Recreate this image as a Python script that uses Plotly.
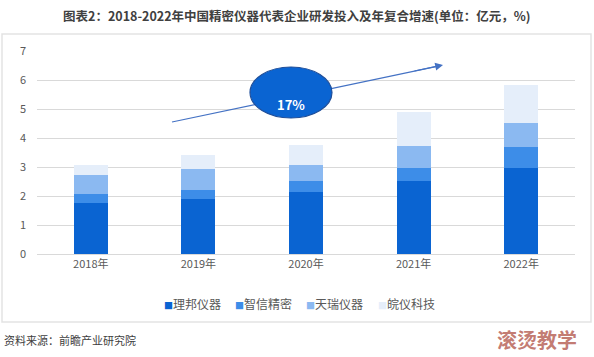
import plotly.graph_objects as go

years = ["2018年", "2019年", "2020年", "2021年", "2022年"]
series_names = ["理邦仪器", "智信精密", "天瑞仪器", "皖仪科技"]
libang = [1.77, 1.91, 2.14, 2.51, 2.98]
zhixin = [0.29, 0.31, 0.37, 0.47, 0.71]
tianrui = [0.68, 0.70, 0.57, 0.75, 0.82]
wanyi = [0.33, 0.48, 0.67, 1.18, 1.32]
colors = ["#0A64D2", "#3D8DE8", "#8BB9F1", "#E5EEFA"]
y_ticks = [0, 1, 2, 3, 4, 5, 6, 7]
cagr_label = "17%"

FONT = "Noto Sans CJK SC"
fig = go.Figure()
for name, vals, c in zip(series_names, [libang, zhixin, tianrui, wanyi], colors):
    fig.add_trace(go.Bar(x=years, y=vals, name=name, marker=dict(color=c, line=dict(width=0)),
                         hoverinfo="skip"))

fig.update_layout(
    width=594, height=357,
    barmode="stack", bargap=0.684,
    paper_bgcolor="white", plot_bgcolor="white",
    margin=dict(l=37, r=19, t=51, b=103),
    font=dict(family=FONT, color="#595959", size=11),
    showlegend=False,
    xaxis=dict(showgrid=False, showline=True, linecolor="#D9D9D9", ticks="",
               tickfont=dict(size=11, color="#595959")),
    yaxis=dict(range=[0, 7], tickvals=y_ticks, showgrid=True, gridcolor="#D9D9D9",
               zeroline=False, showline=False, ticks="", ticklabelstandoff=10,
               tickfont=dict(size=11, color="#595959")),
)

def px_x(p):
    return (p-37)/538
def px_y(p):
    return (254-p)/203

# custom legend (small squares close to text, as in the reference)
legend_x = [162, 233, 304, 376]
for name, c, lx in zip(series_names, colors, legend_x):
    fig.add_annotation(xref="paper", yref="paper", x=px_x(lx), y=px_y(303),
                       text="<span style='color:%s;font-size:9px'>■</span>%s" % (c, name),
                       showarrow=False, xanchor="left", yanchor="middle",
                       font=dict(size=12, color="#595959", family=FONT))

# title
fig.add_annotation(xref="paper", yref="paper", x=px_x(297), y=px_y(15),
                   text="<b>图表2：2018-2022年中国精密仪器代表企业研发投入及年复合增速(单位：亿元，%)</b>",
                   showarrow=False, font=dict(size=12.5, color="#404040", family=FONT),
                   xanchor="center", yanchor="middle")
# source
fig.add_annotation(xref="paper", yref="paper", x=px_x(2), y=px_y(340),
                   text="资料来源：前瞻产业研究院", showarrow=False,
                   font=dict(size=11, color="#404040", family=FONT), xanchor="left", yanchor="middle")
# watermark text
fig.add_annotation(xref="paper", yref="paper", x=px_x(579), y=px_y(339),
                   text="<b>滚烫教学</b>", showarrow=False,
                   font=dict(size=20, color="rgba(185,100,90,0.85)", family=FONT), xanchor="right", yanchor="middle")

# frame box
fig.add_shape(type="rect", xref="paper", yref="paper", x0=px_x(2), x1=px_x(591), y0=px_y(322), y1=px_y(34),
              line=dict(color="#E3E3E3", width=1.5), layer="below")

# trend arrow: line (behind ellipse) + head
fig.add_shape(type="line", xref="paper", yref="paper", x0=px_x(172), y0=px_y(122), x1=px_x(437), y1=px_y(66.3),
              line=dict(color="#4472C4", width=1.2))
fig.add_annotation(xref="paper", yref="paper", axref="pixel", ayref="pixel", ax=-30, ay=6.3,
                   x=px_x(443), y=px_y(65), showarrow=True, arrowhead=2, arrowsize=1.3, arrowwidth=1.2,
                   arrowcolor="#4472C4", text="")
# ellipse
fig.add_shape(type="circle", xref="paper", yref="paper", x0=px_x(250), x1=px_x(332), y0=px_y(118), y1=px_y(67),
              fillcolor="#0A64D2", line=dict(color="#1F4E99", width=1.2))
fig.add_annotation(xref="paper", yref="paper", x=px_x(291), y=px_y(93), text="<b>" + cagr_label + "</b>",
                   showarrow=False, font=dict(size=13, color="white", family=FONT))

fig.write_html("out.html", config={"displayModeBar": False},
               post_script="document.body.style.margin='0px';")
